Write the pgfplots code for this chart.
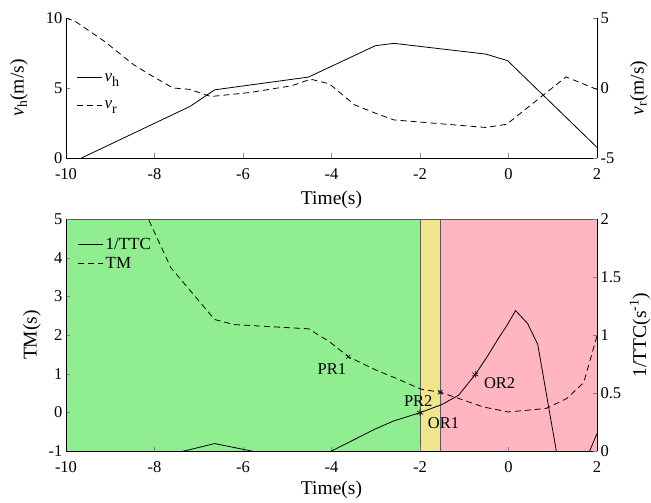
\documentclass[border=0pt]{standalone}
\usepackage{pgfplots}
\pgfplotsset{compat=1.18}
\usepackage{fontspec}
\setmainfont{Liberation Serif}
\definecolor{pgreen}{RGB}{144,238,144}
\definecolor{pyellow}{RGB}{240,228,140}
\definecolor{ppink}{RGB}{255,182,193}

\newcommand{\vsub}[1]{\textit{v}\raisebox{-5bp}{\fontsize{14bp}{15bp}\selectfont #1}}

\pgfplotsset{
  base/.style={
    scale only axis, width=531bp, xmin=-10, xmax=2,
    /pgf/number format/assume math mode=true,
    tick align=inside,
    major tick length=4.5bp,
    tick label style={font=\fontsize{16.5bp}{18bp}\selectfont},
    xticklabel style={yshift=-7bp},
    label style={font=\fontsize{19.5bp}{22bp}\selectfont},
    legend style={font=\fontsize{17bp}{19bp}\selectfont, draw=none, fill=none,
      row sep=0bp, inner sep=1bp},
    legend cell align=left,
    legend image code/.code={\draw[##1] (0bp,0bp) -- (25bp,0bp);},
    every axis plot/.append style={line width=0.8bp},
    axis line style={line width=0.7bp},
    xtick={-10,-8,...,2},
  },
  dsh/.style={dash pattern=on 6bp off 4bp},
}

\begin{document}
\begin{tikzpicture}
\path[use as bounding box] (-66bp,-52bp) rectangle (585bp,451bp);

% ---------------- top panel ----------------
\begin{axis}[base, at={(0bp,293bp)}, anchor=south west, height=140bp,
  ymin=0, ymax=10, ytick={0,5,10},
  axis x line*=bottom, axis y line*=left,
  xlabel={Time(s)},
  xlabel style={at={(axis description cs:0.5,-0.30)}, anchor=center},
  ylabel={\textit{v}\textsubscript{h}(m/s)},
  ylabel style={at={(axis description cs:-0.0885,0.5)}, anchor=center},
  legend style={at={(axis description cs:0.018,0.475)}, anchor=west, row sep=14bp},
]
\addplot[black, solid] coordinates {
(-9.65,0) (-7.2,3.68) (-6.64,4.87) (-4.52,5.78) (-3.01,8.02) (-2.59,8.19)
(-0.51,7.42) (-0.02,6.95) (2,0.76)};
\addlegendentry{\vsub{h}}
\addlegendimage{black, dsh, line width=0.8bp}
\addlegendentry{\vsub{r}}
\end{axis}

\begin{axis}[base, at={(0bp,293bp)}, anchor=south west, height=140bp,
  ymin=-5, ymax=5, ytick={-5,0,5},
  axis x line=none, axis y line*=right,
  ylabel={\textit{v}\textsubscript{r}(m/s)},
  ylabel style={at={(axis description cs:1.079,0.5)}, anchor=center},
]
\addplot[black, dsh] coordinates {
(-10,5) (-9.79,4.76) (-9.13,3.33) (-8.47,1.66) (-8.1,0.94) (-7.58,0.0)
(-7.2,-0.1) (-6.73,-0.61) (-5.84,-0.32) (-4.9,0.16) (-4.47,0.63) (-4.05,0.30)
(-3.48,-1.2) (-3.01,-1.80) (-2.59,-2.28) (-0.51,-2.82) (-0.04,-2.59)
(1.3,0.79) (2,-0.1)};
\end{axis}

% ---------------- bottom panel ----------------
\begin{axis}[base, at={(0bp,0bp)}, anchor=south west, height=232bp,
  ymin=-1, ymax=5, ytick={-1,0,...,5},
  axis x line*=bottom, axis y line*=left, axis on top,
  xlabel={Time(s)},
  xlabel style={at={(axis description cs:0.5,-0.168)}, anchor=center},
  ylabel={TM(s)},
  ylabel style={at={(axis description cs:-0.064,0.5)}, anchor=center},
  legend style={at={(axis description cs:0.02,0.849)}, anchor=west, row sep=2bp},
]
\addplot[fill=pgreen, draw=gray!70!black, line width=0.6bp, forget plot]
  coordinates {(-10,-1) (-2,-1) (-2,5) (-10,5)} -- cycle;
\addplot[fill=pyellow, draw=gray!70!black, line width=0.6bp, forget plot]
  coordinates {(-2,-1) (-1.55,-1) (-1.55,5) (-2,5)} -- cycle;
\addplot[fill=ppink, draw=gray!70!black, line width=0.6bp, forget plot]
  coordinates {(-1.55,-1) (2,-1) (2,5) (-1.55,5)} -- cycle;
\addlegendimage{black, solid, line width=0.8bp}
\addlegendentry{1/TTC}
\addplot[black, dsh] coordinates {
(-9.65,9) (-8.14,5) (-7.63,3.74) (-6.64,2.40) (-6.21,2.27) (-4.52,2.16)
(-4.05,1.83) (-3.62,1.44) (-3.01,1.10) (-2.54,0.88) (-1.98,0.60) (-1.54,0.52)
(-1.13,0.36) (-0.57,0.14) (0.0,0.01) (0.85,0.10) (1.32,0.36) (1.70,0.77) (2,1.98)};
\addlegendentry{TM}
\addplot[black, only marks, mark=x, mark size=3bp, line width=0.6bp, forget plot]
  coordinates {(-3.62,1.44) (-1.54,0.52)};
\node[font=\fontsize{16.5bp}{18bp}\selectfont] at (axis cs:-3.99,1.11) {PR1};
\node[font=\fontsize{16.5bp}{18bp}\selectfont] at (axis cs:-2.04,0.29) {PR2};
\node[font=\fontsize{16.5bp}{18bp}\selectfont] at (axis cs:-1.47,-0.27) {OR1};
\node[font=\fontsize{16.5bp}{18bp}\selectfont] at (axis cs:-0.2,0.76) {OR2};
\end{axis}

\begin{axis}[base, at={(0bp,0bp)}, anchor=south west, height=232bp,
  ymin=0, ymax=2, ytick={0,0.5,1,1.5,2},
  axis x line=none, axis y line*=right,
  ylabel={1/TTC(s\textsuperscript{-1})},
  ylabel style={at={(axis description cs:1.081,0.5)}, anchor=center},
]
\addplot[black, solid] coordinates {
(-9.65,-0.2) (-7.2,0.012) (-6.64,0.064) (-4.52,-0.1) (-3.01,0.19) (-2.59,0.26)
(-2.0,0.33) (-1.51,0.40) (-1.13,0.48) (-0.75,0.66) (-0.47,0.82) (-0.23,0.97)
(-0.04,1.08) (0.16,1.21) (0.43,1.10) (0.66,0.92) (1.3,-0.48) (2,0.15)};
\addplot[black, only marks, mark=asterisk, mark size=3.5bp, line width=0.6bp]
  coordinates {(-2.0,0.33) (-0.75,0.66)};
\end{axis}
\end{tikzpicture}
\end{document}
